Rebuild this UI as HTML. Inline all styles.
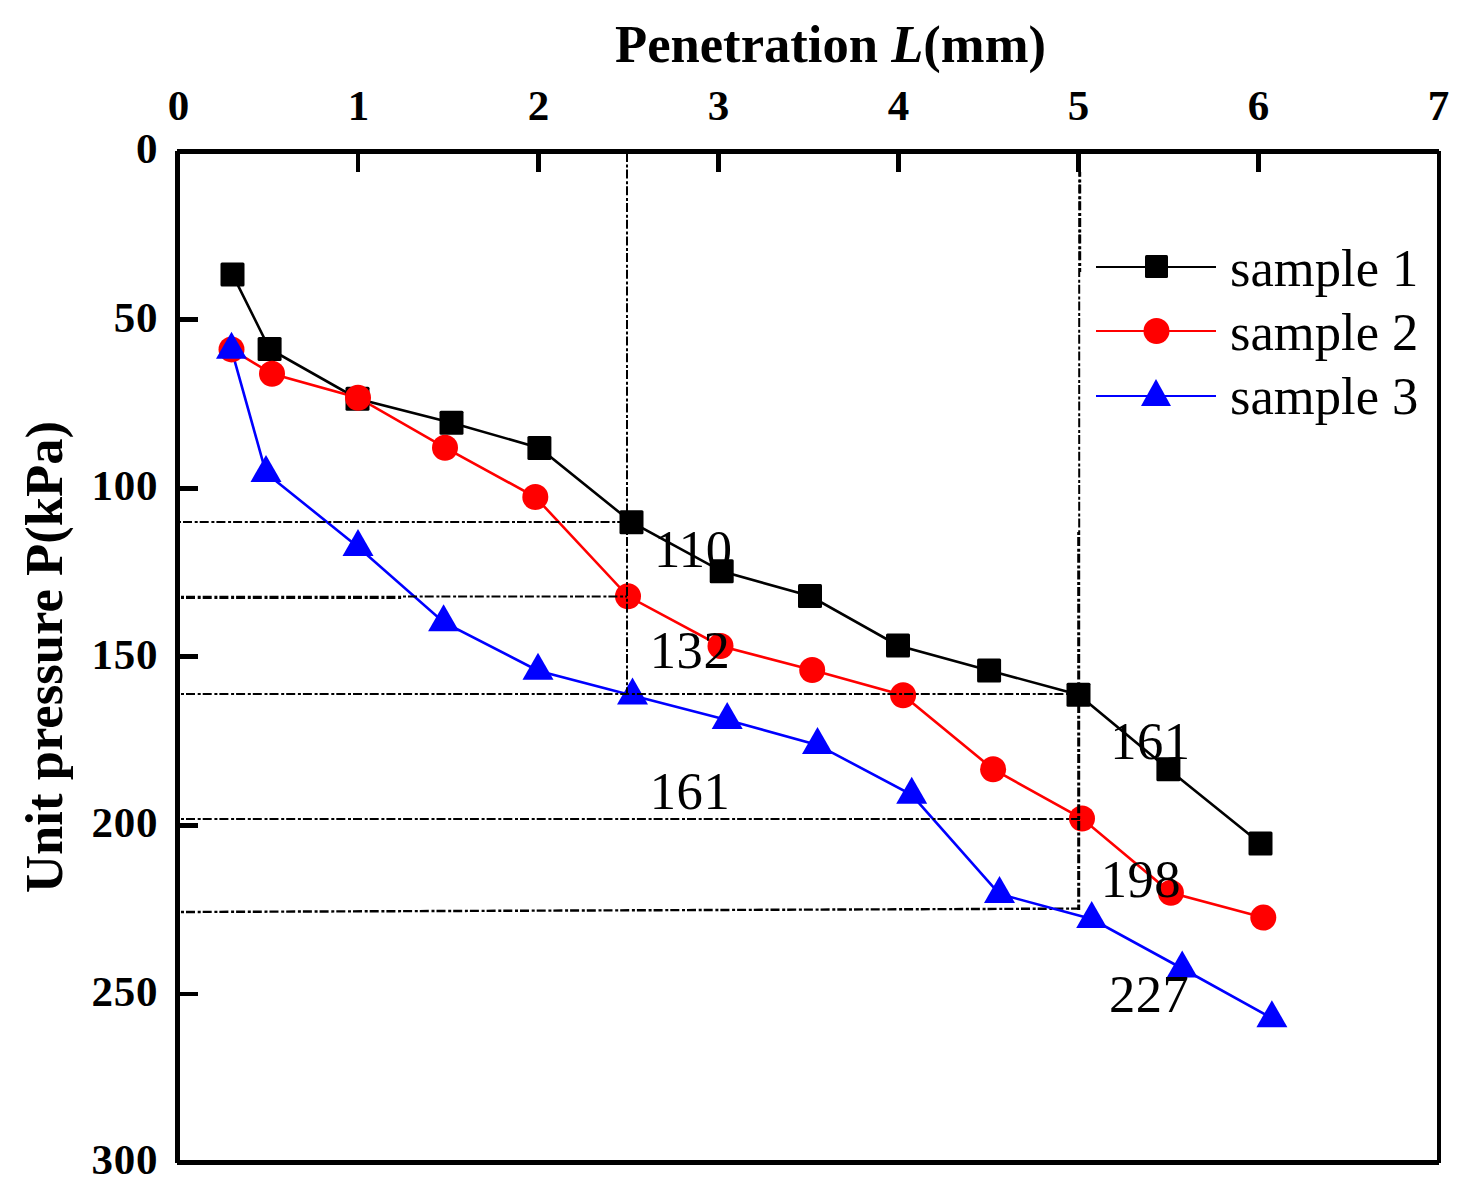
<!DOCTYPE html>
<html lang="en"><head><meta charset="utf-8"><title>Penetration vs unit pressure</title>
<style>html,body{margin:0;padding:0;background:#fff}svg{display:block}text{font-family:"Liberation Serif","Times New Roman",serif;fill:#000}.b{font-weight:bold}.t{font-size:43px;font-weight:bold}.l{font-size:52.6px}</style></head><body>
<svg width="1466" height="1204" viewBox="0 0 1466 1204">
<rect width="1466" height="1204" fill="#fff"/>
<g fill="#000" shape-rendering="crispEdges">
<rect x="177" y="149" width="1262" height="5"/>
<rect x="177" y="1160" width="1262" height="5"/>
<rect x="175" y="151" width="5" height="1012"/>
<rect x="1437" y="151" width="4" height="1012"/>
<rect x="356" y="154" width="4" height="18"/>
<rect x="536" y="154" width="5" height="18"/>
<rect x="716" y="154" width="5" height="18"/>
<rect x="896" y="154" width="5" height="18"/>
<rect x="1076" y="154" width="5" height="18"/>
<rect x="1256" y="154" width="5" height="18"/>
<rect x="180" y="317" width="18" height="5"/>
<rect x="180" y="486" width="18" height="5"/>
<rect x="180" y="654" width="18" height="5"/>
<rect x="180" y="823" width="18" height="5"/>
<rect x="180" y="992" width="18" height="4"/>
</g>
<g class="t" text-anchor="middle">
<text class="t" x="178.6" y="119.6">0</text>
<text class="t" x="358.6" y="119.6">1</text>
<text class="t" x="538.6" y="119.6">2</text>
<text class="t" x="718.6" y="119.6">3</text>
<text class="t" x="898.6" y="119.6">4</text>
<text class="t" x="1078.6" y="119.6">5</text>
<text class="t" x="1258.6" y="119.6">6</text>
<text class="t" x="1438.6" y="119.6">7</text>
</g>
<g class="t" text-anchor="end">
<text class="t" x="158.4" y="163.1" letter-spacing="0.8">0</text>
<text class="t" x="158.4" y="331.6" letter-spacing="0.8">50</text>
<text class="t" x="158.4" y="500.1" letter-spacing="0.8">100</text>
<text class="t" x="158.4" y="668.6" letter-spacing="0.8">150</text>
<text class="t" x="158.4" y="837.1" letter-spacing="0.8">200</text>
<text class="t" x="158.4" y="1005.6" letter-spacing="0.8">250</text>
<text class="t" x="158.4" y="1174.1" letter-spacing="0.8">300</text>
</g>
<text class="l b" x="615" y="62" textLength="431" lengthAdjust="spacing">Penetration <tspan font-style="italic">L</tspan>(mm)</text>
<text class="l b" transform="translate(62,893) rotate(-90)" textLength="472" lengthAdjust="spacing">Unit pressure P(kPa)</text>
<line x1="181" y1="912" x2="1080" y2="908.6" stroke="#000" stroke-width="2.4" stroke-dasharray="3 2 9 2.7"/>
<polyline points="232.5,274.4 269.6,349.0 357.5,398.7 451.5,422.8 539.4,447.9 631.5,522.2 721.7,571.3 810.0,596.0 898.0,645.5 989.1,670.4 1078.5,694.8 1168.4,769.2 1260.5,843.4" fill="none" stroke="#000" stroke-width="2.6"/>
<polyline points="231.5,349.4 272.0,373.8 358.0,397.7 445.0,447.7 535.3,497.0 628.0,596.3 720.5,646.0 812.2,670.0 903.1,695.2 993.1,769.2 1082.0,818.5 1170.9,892.7 1263.3,917.6" fill="none" stroke="#f00" stroke-width="2.6"/>
<polyline points="231.5,349.7 266.0,472.9 358.0,547.0 443.6,622.2 538.0,670.7 632.5,695.6 727.2,720.0 817.5,744.9 911.7,794.8 999.5,894.0 1091.7,919.0 1182.2,968.5 1271.9,1018.2" fill="none" stroke="#00f" stroke-width="2.6"/>
<rect x="220.5" y="262.4" width="24" height="24" rx="1.5" fill="#000"/>
<rect x="257.6" y="337.0" width="24" height="24" rx="1.5" fill="#000"/>
<rect x="345.5" y="386.7" width="24" height="24" rx="1.5" fill="#000"/>
<rect x="439.5" y="410.8" width="24" height="24" rx="1.5" fill="#000"/>
<rect x="527.4" y="435.9" width="24" height="24" rx="1.5" fill="#000"/>
<rect x="619.5" y="510.2" width="24" height="24" rx="1.5" fill="#000"/>
<rect x="709.7" y="559.3" width="24" height="24" rx="1.5" fill="#000"/>
<rect x="798.0" y="584.0" width="24" height="24" rx="1.5" fill="#000"/>
<rect x="886.0" y="633.5" width="24" height="24" rx="1.5" fill="#000"/>
<rect x="977.1" y="658.4" width="24" height="24" rx="1.5" fill="#000"/>
<rect x="1066.5" y="682.8" width="24" height="24" rx="1.5" fill="#000"/>
<rect x="1156.4" y="757.2" width="24" height="24" rx="1.5" fill="#000"/>
<rect x="1248.5" y="831.4" width="24" height="24" rx="1.5" fill="#000"/>
<circle cx="231.5" cy="349.4" r="13" fill="#f00"/>
<circle cx="272.0" cy="373.8" r="13" fill="#f00"/>
<circle cx="358.0" cy="397.7" r="13" fill="#f00"/>
<circle cx="445.0" cy="447.7" r="13" fill="#f00"/>
<circle cx="535.3" cy="497.0" r="13" fill="#f00"/>
<circle cx="628.0" cy="596.3" r="13" fill="#f00"/>
<circle cx="720.5" cy="646.0" r="13" fill="#f00"/>
<circle cx="812.2" cy="670.0" r="13" fill="#f00"/>
<circle cx="903.1" cy="695.2" r="13" fill="#f00"/>
<circle cx="993.1" cy="769.2" r="13" fill="#f00"/>
<circle cx="1082.0" cy="818.5" r="13" fill="#f00"/>
<circle cx="1170.9" cy="892.7" r="13" fill="#f00"/>
<circle cx="1263.3" cy="917.6" r="13" fill="#f00"/>
<polygon points="231.5,331.7 216.0,358.7 247.0,358.7" fill="#00f"/>
<polygon points="266.0,454.9 250.5,481.9 281.5,481.9" fill="#00f"/>
<polygon points="358.0,529.0 342.5,556.0 373.5,556.0" fill="#00f"/>
<polygon points="443.6,604.2 428.1,631.2 459.1,631.2" fill="#00f"/>
<polygon points="538.0,652.7 522.5,679.7 553.5,679.7" fill="#00f"/>
<polygon points="632.5,677.6 617.0,704.6 648.0,704.6" fill="#00f"/>
<polygon points="727.2,702.0 711.7,729.0 742.7,729.0" fill="#00f"/>
<polygon points="817.5,726.9 802.0,753.9 833.0,753.9" fill="#00f"/>
<polygon points="911.7,776.8 896.2,803.8 927.2,803.8" fill="#00f"/>
<polygon points="999.5,876.0 984.0,903.0 1015.0,903.0" fill="#00f"/>
<polygon points="1091.7,901.0 1076.2,928.0 1107.2,928.0" fill="#00f"/>
<polygon points="1182.2,950.5 1166.7,977.5 1197.7,977.5" fill="#00f"/>
<polygon points="1271.9,1000.2 1256.4,1027.2 1287.4,1027.2" fill="#00f"/>
<g stroke="#000" fill="none" stroke-dasharray="3 2 9 2.7">
<line x1="180" y1="522" x2="620" y2="522" stroke-width="2" stroke-dashoffset="2"/>
<line x1="181" y1="597.3" x2="403" y2="597.3" stroke-width="3.2"/>
<line x1="403" y1="596.6" x2="627" y2="596.6" stroke-width="2"/>
<line x1="181" y1="694" x2="1067" y2="694" stroke-width="2"/>
<line x1="181" y1="819" x2="1080" y2="819" stroke-width="2"/>
<line x1="627" y1="154" x2="627" y2="694" stroke-width="2" stroke-dashoffset="6.1"/>
<line x1="1079.2" y1="172" x2="1079.2" y2="532" stroke-width="2" stroke-dashoffset="9.2"/>
<line x1="1080.2" y1="172" x2="1080.2" y2="272" stroke-width="2" stroke-dashoffset="9.2"/>
<line x1="1078.7" y1="532" x2="1078.7" y2="910" stroke-width="3"/>
</g>
<line x1="1096" y1="267" x2="1216" y2="267" stroke="#000" stroke-width="2"/>
<rect x="1145" y="255" width="23" height="23" rx="1.5" fill="#000"/>
<line x1="1096" y1="331" x2="1216" y2="331" stroke="#f00" stroke-width="2"/>
<circle cx="1156.5" cy="331" r="13" fill="#f00"/>
<line x1="1096" y1="396" x2="1216" y2="396" stroke="#00f" stroke-width="2"/>
<polygon points="1156.0,379.0 1141.0,406.0 1171.0,406.0" fill="#00f"/>
<text class="l" x="1230" y="285.5">sample 1</text>
<text class="l" x="1230" y="349.5">sample 2</text>
<text class="l" x="1230" y="414">sample 3</text>
<text class="l" x="654" y="567.1" letter-spacing="0.5">110</text>
<text class="l" x="649.8" y="668.4" letter-spacing="0.5">132</text>
<text class="l" x="649.8" y="808.7" letter-spacing="0.5">161</text>
<text class="l" x="1110.2" y="759.3" letter-spacing="0.5">161</text>
<text class="l" x="1100.7" y="897.3" letter-spacing="0.5">198</text>
<text class="l" x="1109" y="1011.9" letter-spacing="0.5">227</text>
</svg></body></html>
